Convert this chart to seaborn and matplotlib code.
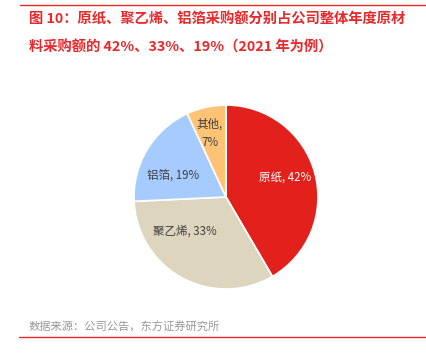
import matplotlib
matplotlib.use("Agg")
import matplotlib.pyplot as plt
import seaborn as sns
from matplotlib.lines import Line2D

sns.set_theme(style="white")
plt.rcParams['font.family'] = ['Noto Sans CJK SC', 'DejaVu Sans']

categories = ["原纸", "聚乙烯", "铝箔", "其他"]
values = [42, 33, 19, 7]
colors = ["#E3211C", "#DED5BE", "#A6CBFF", "#FFC376"]
label_colors = ["white", "#404040", "#404040", "#404040"]

title_line1 = "图 10：原纸、聚乙烯、铝箔采购额分别占公司整体年度原材"
title_line2 = "料采购额的 42%、33%、19%（2021 年为例）"
source = "数据来源：公司公告，东方证券研究所"

# small label nudges (axes data units) to mimic the "best fit" label placement
label_nudge = [(0.0, 0.04), (-0.13, 0.22), (0.0, -0.12), (-0.03, 0.04)]

W, H = 426, 354
fig = plt.figure(figsize=(W / 100, H / 100), dpi=100)
fig.patch.set_facecolor("white")

ax = fig.add_axes([134 / W, 1 - 289 / H, 184 / W, 184 / H])
labels = [f"{c}, {v}%" for c, v in zip(categories, values)]
wedges, texts = ax.pie(values, colors=colors, startangle=90, counterclock=False,
                       labels=labels, labeldistance=0.67,
                       wedgeprops=dict(edgecolor="white", linewidth=1.2),
                       textprops=dict(fontsize=8.3))
for t, c, lab, (dx, dy) in zip(texts, label_colors, labels, label_nudge):
    t.set_color(c)
    t.set_ha("center")
    t.set_va("center")
    x, y = t.get_position()
    t.set_position((x + dx, y + dy))
    if lab.startswith("其他"):
        t.set_text(lab.replace(", ", ",\n"))
        t.set_linespacing(1.5)
ax.set_xlim(-1, 1)
ax.set_ylim(-1, 1)
ax.set_aspect("equal")
ax.axis("off")

red = "#E8282B"
fig.add_artist(Line2D([20 / W, 1], [1 - 4.5 / H, 1 - 4.5 / H], color=red, lw=1.0))
fig.add_artist(Line2D([19 / W, 1], [1 - 337 / H, 1 - 337 / H], color=red, lw=1.0))
fig.text(29 / W, 1 - 20 / H, title_line1, color=red, fontsize=10.3, fontweight="bold",
         ha="left", va="center")
fig.text(29 / W, 1 - 47 / H, title_line2, color=red, fontsize=10.3, fontweight="bold",
         ha="left", va="center")
fig.text(29 / W, 1 - 327 / H, source, color="#999999", fontsize=8.1, ha="left", va="center")

fig.savefig("out.png", dpi=100, facecolor="white")
